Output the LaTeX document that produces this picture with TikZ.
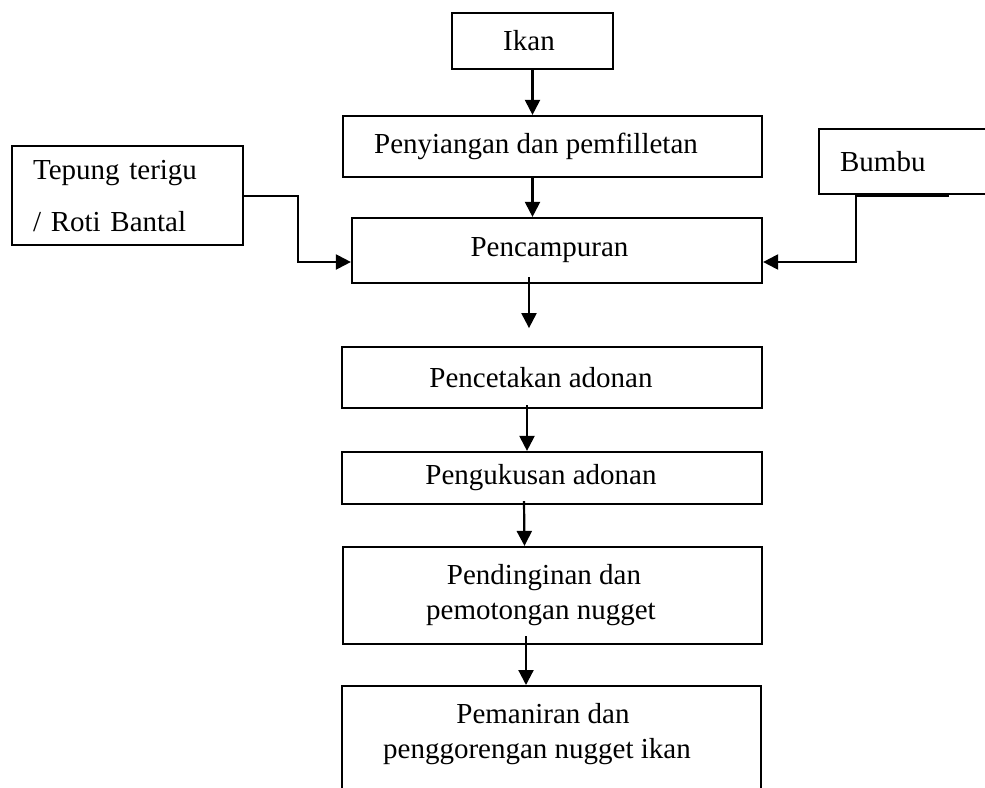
\documentclass[tikz,border=0pt]{standalone}
\usepackage{fontspec}
\setmainfont{Liberation Serif}
\usetikzlibrary{arrows.meta,calc}
\newcommand\tshift[1]{\rule{#1}{0pt}}
\begin{document}
\begin{tikzpicture}[x=1pt,y=-1pt,
  box/.style={draw, line width=2.2pt, rectangle, inner sep=0pt, align=center,
    font=\fontsize{29}{35}\selectfont},
  conn/.style={line width=2.2pt, -{Triangle[length=15pt,width=15pt]}}]
\useasboundingbox (0,0) rectangle (985,787);

\node[box, minimum width=161pt, minimum height=56pt] (ikan) at (532.5,41) {Ikan\tshift{7pt}};
\node[box, minimum width=419pt, minimum height=61pt] (pen) at (552.5,146.5) {Penyiangan dan pemfilletan\tshift{33pt}};
\node[box, minimum width=410pt, minimum height=65pt] (pc) at (557,250.5) {Pencampuran\tshift{15pt}};
\node[box, minimum width=420pt, minimum height=61pt] (pct) at (552,377.5) {Pencetakan adonan\tshift{22pt}};
\node[box, minimum width=420pt, minimum height=52pt] (pgk) at (552,478) {Pengukusan adonan\tshift{22pt}};
\node[box, minimum width=419pt, minimum height=97pt] (pdn) at (552.5,595.5) {Pendinginan dan\tshift{17pt}\\pemotongan nugget\tshift{23pt}};
\node[box, minimum width=419pt, anchor=north, inner ysep=17pt] (pmn) at (551.5,685) {Pemaniran dan\tshift{17pt}\\penggorengan nugget ikan\tshift{29pt}\rule[-40pt]{0pt}{1pt}};

\node[box, anchor=north west, minimum height=99pt, text width=189pt, inner xsep=21pt, align=left,
  font=\fontsize{29}{52}\selectfont] (tep) at (11,145) {Tepung terigu\\/ Roti Bantal};
\node[box, anchor=north west, minimum height=65pt, text width=158pt, inner xsep=21pt, align=left] (bum) at (818,128) {Bumbu};

\draw[conn] ([xshift=-2pt]tep.east) -- ++(56pt,0) |- ([yshift=-11.5pt]pc.west);
\draw[conn] ([xshift=38pt]bum.south west) |- ([yshift=-11.5pt]pc.east);
\draw[line width=3pt] ([xshift=37pt]bum.south west) -- ([xshift=131pt]bum.south west);

\draw[conn] (ikan.south) -- (ikan.south |- pen.north);
\draw[conn] (ikan.south |- pen.south) -- (ikan.south |- pc.north);
\coordinate (e1) at ([xshift=-28pt,yshift=-44pt]pc.south);
\draw[conn] ([xshift=-28pt,yshift=7pt]pc.south) -- (e1);
\draw[conn] ([xshift=-25pt,yshift=4pt]pct.south) -- ([xshift=-25pt]pgk.north);
\draw[conn] ([xshift=-28pt,yshift=4pt]pgk.south) -- ([xshift=-28pt]pdn.north);
\draw[conn] ([xshift=-26.5pt,yshift=9pt]pdn.south) -- ([xshift=-25.5pt]pmn.north);
\end{tikzpicture}
\end{document}
